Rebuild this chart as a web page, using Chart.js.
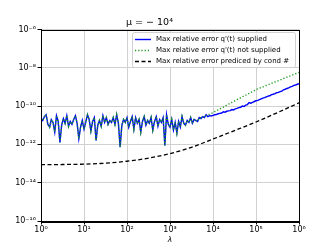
<!DOCTYPE html>
<html lang="en">
<head>
  <meta charset="UTF-8">
  <title>Max relative error</title>
  <script src="https://cdn.jsdelivr.net/npm/chart.js"></script>
  <style>
    body { margin: 0; background: #fff; }
    canvas { display: block; }
  </style>
</head>
<body>
  <canvas id="errChart" width="332" height="249"></canvas>
  <script>
    // log10(lambda) sampling grid, step 0.04 from 10^0 to 10^6
    const lamExp = Array.from({ length: 151 }, (_, i) => +(i * 0.04).toFixed(2));

    // log10 of max relative error, q'(t) supplied (blue)
    const suppliedExp = [
      -10.65, -10.75, -10.55, -10.45, -10.95, -11.1, -10.7, -10.85, -11.35, -10.5,
      -10.8, -11.9, -11.0, -10.65, -10.9, -10.5, -11.05, -10.8, -10.95, -10.7,
      -10.5, -10.9, -11.7, -11.1, -10.75, -11.2, -10.85, -10.45, -10.7, -11.3,
      -10.8, -10.6, -11.8, -11.0, -10.75, -11.05, -10.5, -10.85, -10.6, -10.95,
      -10.75, -10.85, -10.6, -10.95, -10.45, -10.9, -12.15, -11.0, -10.7, -10.85,
      -10.6, -11.1, -10.8, -10.55, -11.2, -10.6, -10.9, -10.7, -11.35, -10.8,
      -10.55, -11.0, -10.75, -10.9, -10.6, -11.25, -10.8, -10.55, -11.05, -10.7,
      -10.85, -10.6, -12.05, -10.45, -10.95, -11.1, -10.7, -11.25, -10.85, -11.4,
      -10.8, -11.1, -10.55, -10.9, -11.0, -10.75, -10.85, -10.6, -10.9, -10.7,
      -10.75, -10.8, -10.6, -10.65, -10.55, -10.6, -10.45, -10.55, -10.5, -10.52,
      -10.48, -10.45, -10.44, -10.40, -10.38, -10.36, -10.30, -10.32, -10.27, -10.25,
      -10.24, -10.18, -10.20, -10.14, -10.12, -10.08, -10.06, -10.00, -10.02, -9.95,
      -9.92, -9.82, -9.85, -9.80, -9.76, -9.72, -9.70, -9.66, -9.62, -9.58,
      -9.56, -9.52, -9.48, -9.46, -9.40, -9.38, -9.35, -9.30, -9.28, -9.24,
      -9.22, -9.15, -9.12, -9.08, -9.05, -9.00, -8.97, -8.92, -8.90, -8.86,
      -8.83
    ];

    // q'(t) not supplied (green): follows the blue curve until ~10^3.7, then its own values
    const notSuppliedTail = [
      -10.62, -10.58, -10.54, -10.50, -10.46, -10.42, -10.38, -10.34,
      -10.29, -10.24, -10.19, -10.14, -10.10, -10.05, -10.00, -9.95, -9.90, -9.86,
      -9.81, -9.76, -9.71, -9.66, -9.62, -9.57, -9.52, -9.47, -9.43, -9.38,
      -9.34, -9.29, -9.24, -9.19, -9.14, -9.10, -9.07, -9.03, -9.00, -8.96,
      -8.92, -8.89, -8.85, -8.82, -8.78, -8.74, -8.71, -8.67, -8.64, -8.60,
      -8.56, -8.53, -8.49, -8.46, -8.42, -8.38, -8.35, -8.31, -8.28, -8.24
    ];
    const notSuppliedExp = suppliedExp.slice(0, 93).concat(notSuppliedTail);

    // predicted by condition number (black dashed)
    const condLamExp = [0, 0.5, 1, 1.5, 2, 2.5, 3, 3.5, 4, 4.5, 5, 5.5, 6];
    const condExp = [-13.06, -13.05, -13.03, -12.98, -12.88, -12.72, -12.48, -12.15, -11.72, -11.28, -10.83, -10.34, -9.83];

    const xTicks = [1e0, 1e1, 1e2, 1e3, 1e4, 1e5, 1e6];
    const xTickLabels = ['10⁰', '10¹', '10²', '10³', '10⁴', '10⁵', '10⁶'];
    const yTicks = [1e-16, 1e-14, 1e-12, 1e-10, 1e-8, 1e-6];
    const yTickLabels = ['10⁻¹⁶', '10⁻¹⁴', '10⁻¹²', '10⁻¹⁰', '10⁻⁸', '10⁻⁶'];

    const toPts = (xs, ys) => xs.map((e, i) => ({ x: Math.pow(10, e), y: Math.pow(10, ys[i]) }));

    const FONT = 'DejaVu Sans';

    // frame, minor x ticks, and the boxed legend inside the plot
    const extras = {
      id: 'extras',
      afterDraw(chart) {
        const ctx = chart.ctx;
        const a = chart.chartArea;
        const xs = chart.scales.x;
        ctx.save();
        ctx.strokeStyle = '#000';
        ctx.lineWidth = 1;
        ctx.strokeRect(Math.round(a.left) + 0.5, Math.round(a.top) + 0.5,
          Math.round(a.right - a.left), Math.round(a.bottom - a.top));
        // minor ticks
        for (let k = 0; k < 6; k++) {
          for (let m = 2; m <= 9; m++) {
            const px = Math.round(xs.getPixelForValue(m * Math.pow(10, k))) + 0.5;
            ctx.beginPath();
            ctx.moveTo(px, a.bottom);
            ctx.lineTo(px, a.bottom + 2);
            ctx.stroke();
          }
        }
        // legend box
        const bx = 132, by = 32, bw = 163, bh = 35;
        ctx.fillStyle = 'rgba(255,255,255,0.85)';
        ctx.strokeStyle = '#d0d0d0';
        ctx.beginPath();
        ctx.roundRect(bx + 0.5, by + 0.5, bw, bh, 2);
        ctx.fill();
        ctx.stroke();
        const rows = [39, 50, 61];
        ctx.font = '7px "' + FONT + '"';
        ctx.textBaseline = 'middle';
        chart.data.datasets.forEach((ds, i) => {
          const y = rows[i] + 0.5;
          ctx.strokeStyle = ds.borderColor;
          ctx.lineWidth = ds.borderWidth;
          ctx.setLineDash(ds.borderDash || []);
          ctx.beginPath();
          ctx.moveTo(135, y);
          ctx.lineTo(151, y);
          ctx.stroke();
          ctx.setLineDash([]);
          ctx.fillStyle = '#000';
          ctx.fillText(ds.label, 156, rows[i]);
        });
        ctx.restore();
      }
    };

    new Chart(document.getElementById('errChart'), {
      type: 'line',
      data: {
        datasets: [
          {
            label: "Max relative error q'(t) supplied",
            data: toPts(lamExp, suppliedExp),
            borderColor: '#0000ff',
            borderWidth: 1.4,
            pointRadius: 0,
            order: 2
          },
          {
            label: "Max relative error q'(t) not supplied",
            data: toPts(lamExp, notSuppliedExp),
            borderColor: '#1a9a1a',
            borderWidth: 1.4,
            borderDash: [1.2, 2],
            pointRadius: 0,
            order: 1
          },
          {
            label: 'Max relative error prediced by cond #',
            data: toPts(condLamExp, condExp),
            borderColor: '#000',
            borderWidth: 1.3,
            borderDash: [4, 2.5],
            pointRadius: 0,
            cubicInterpolationMode: 'monotone',
            order: 0
          }
        ]
      },
      options: {
        responsive: false,
        animation: false,
        layout: { padding: { left: 0, right: 33, top: 0, bottom: 0 } },
        plugins: {
          legend: { display: false },
          tooltip: { enabled: false },
          title: {
            display: true,
            text: 'μ = − 10⁴',
            color: '#000',
            font: { family: FONT, size: 9.5, weight: 'normal' },
            padding: { top: 16.5, bottom: 1.6 }
          }
        },
        scales: {
          x: {
            type: 'logarithmic',
            min: 1,
            max: 1e6,
            afterBuildTicks: s => { s.ticks = xTicks.map(v => ({ value: v })); },
            afterFit: s => { s.height = 28; },
            ticks: {
              autoSkip: false,
              maxRotation: 0,
              color: '#000',
              padding: 1,
              font: { family: FONT, size: 8 },
              callback: v => xTickLabels[xTicks.indexOf(v)] || ''
            },
            grid: { color: '#d0d0d0', tickColor: '#000', tickLength: 3.5 },
            border: { display: true, color: '#000' },
            title: {
              display: true,
              text: 'λ',
              color: '#000',
              font: { family: FONT, size: 7.5, style: 'italic' },
              padding: { top: 0, bottom: 4 }
            }
          },
          y: {
            type: 'logarithmic',
            min: 1e-16,
            max: 1e-6,
            afterBuildTicks: s => { s.ticks = yTicks.map(v => ({ value: v })); },
            afterFit: s => { s.width = 41; },
            ticks: {
              autoSkip: false,
              color: '#000',
              padding: 1.5,
              font: { family: FONT, size: 8 },
              callback: v => yTickLabels[yTicks.indexOf(v)] || ''
            },
            grid: { color: '#d0d0d0', tickColor: '#000', tickLength: 3.5 },
            border: { display: true, color: '#000' }
          }
        }
      },
      plugins: [extras]
    });
  </script>
</body>
</html>
